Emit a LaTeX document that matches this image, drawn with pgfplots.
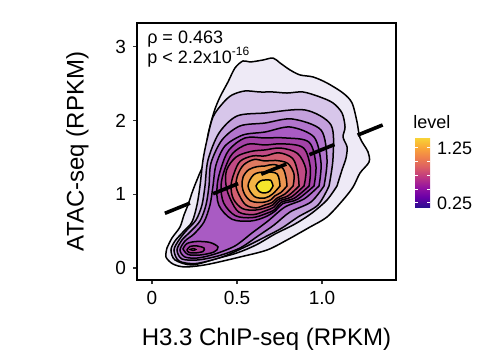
\documentclass[border=0pt]{standalone}
\usepackage{fontspec}
\setmainfont{Liberation Sans}
\usepackage{pgfplots}
\pgfplotsset{compat=1.18}
\definecolor{cA}{HTML}{EEEAF6}
\definecolor{cB}{HTML}{D7C6EA}
\definecolor{cC}{HTML}{C3A0DC}
\definecolor{cD}{HTML}{B275CD}
\definecolor{cE}{HTML}{A95BC3}
\definecolor{cF}{HTML}{A443A8}
\definecolor{cG}{HTML}{AD3F97}
\definecolor{cH}{HTML}{C04A84}
\definecolor{cI}{HTML}{D25E70}
\definecolor{cJ}{HTML}{E07A60}
\definecolor{cK}{HTML}{EC9550}
\definecolor{cL}{HTML}{F4B545}
\definecolor{cM}{HTML}{F5E62B}
\pgfplotsset{/pgf/number format/assume math mode=true}
\begin{document}
\begin{tikzpicture}
\useasboundingbox (0,0) rectangle (246pt,180pt);
\begin{axis}[
  at={(68.5pt,40pt)}, anchor=south west,
  width=129.5pt, height=128.5pt, scale only axis,
  xmin=-0.088, xmax=1.435, ymin=-0.163, ymax=3.324,
  xtick={0,0.5,1}, xticklabels={0,0.5,1.0},
  ytick={0,1,2,3}, yticklabels={0,1,2,3},
  tick align=outside, tick pos=left, major tick length=2pt,
  tick style={black!80, line width=0.6pt},
  axis line style={black, line width=0.7pt},
  xlabel={H3.3 ChIP-seq (RPKM)}, ylabel={ATAC-seq (RPKM)},
  label style={font=\fontsize{12}{14}\selectfont},
  xlabel style={at={(axis description cs:0.5,-0.253)}, anchor=base},
  ylabel style={at={(axis description cs:-0.185,0.5)}, anchor=south, inner sep=0pt},
  ticklabel style={font=\fontsize{9.5}{11}\selectfont},
  colorbar,
  colormap={cbar}{rgb255=(43,13,145) rgb255=(106,0,168) rgb255=(150,20,160) rgb255=(190,55,130) rgb255=(220,95,100) rgb255=(240,130,75) rgb255=(250,170,55) rgb255=(248,215,55)},
  point meta min=0.177, point meta max=1.45,
  colorbar style={
    at={(parent axis.east)}, anchor=west, xshift=1pt, yshift=-10.25pt,
    width=7.5pt, height=35pt, scale only axis,
    ytick={0.25,0.5,0.75,1,1.25},
    yticklabels={0.25,,,,1.25},
    ytick style={white, line width=0.5pt},
    major tick length=1.5pt,
    tick align=inside, ytick pos=both, yticklabel pos=right,
    axis line style={draw=none},
    yticklabel style={font=\fontsize{9}{10}\selectfont},
    title={level},
    title style={at={(0,1)}, anchor=base west, inner sep=0pt, xshift=-1pt, yshift=-1.5pt, font=\fontsize{9}{10}\selectfont},
  },
]
% L1
\addplot[fill=cA, draw=black, line width=0.75pt, smooth, tension=0.5] coordinates {
(0.0882,0.271) (0.1176,0.407) (0.1647,0.556) (0.1882,0.719) (0.2118,0.855) (0.2412,1.058) (0.2765,1.262) (0.3118,1.465) (0.3294,1.805) (0.3647,2.117) (0.4,2.320) (0.4471,2.524) (0.4882,2.714) (0.5353,2.809) (0.5765,2.795) (0.6529,2.822) (0.7118,2.849) (0.7529,2.782) (0.8118,2.687) (0.8706,2.619) (0.9471,2.592) (1.0294,2.510) (1.1235,2.374) (1.1765,2.239) (1.2059,1.981) (1.2235,1.764) (1.2706,1.574) (1.2765,1.438) (1.2235,1.289) (1.1824,1.099) (1.1235,0.923) (1.0294,0.692) (0.9294,0.556) (0.7941,0.380) (0.6765,0.244) (0.5176,0.149) (0.3235,0.047) (0.1941,0.014) (0.1235,0.054) (0.0824,0.149) (0.0882,0.271)} -- cycle;
% L2
\addplot[fill=cB, draw=black, line width=0.75pt, smooth, tension=0.5] coordinates {
(1.0882,1.113) (1.1176,1.330) (1.1412,1.493) (1.1471,1.642) (1.1235,1.777) (1.1353,1.913) (1.1176,2.103) (1.0647,2.239) (0.9882,2.320) (0.8882,2.388) (0.7941,2.374) (0.7118,2.388) (0.6353,2.388) (0.5471,2.402) (0.4706,2.347) (0.4176,2.239) (0.3588,2.049) (0.3235,1.737) (0.3,1.465) (0.2824,1.113) (0.2647,0.855) (0.2353,0.624) (0.1824,0.488) (0.1353,0.366) (0.1118,0.244) (0.1353,0.109) (0.2353,0.041) (0.3706,0.122) (0.5,0.204) (0.6118,0.312) (0.7235,0.461) (0.8412,0.597) (0.9412,0.746) (1.0294,0.923) (1.0882,1.113)} -- cycle;
% L3
\addplot[fill=cC, draw=black, line width=0.75pt, smooth, tension=0.5] coordinates {
(1.0412,1.113) (1.0647,1.493) (1.0529,1.940) (0.9,2.144) (0.6647,2.103) (0.5,2.062) (0.3941,1.831) (0.3294,1.465) (0.3118,1.113) (0.2941,0.855) (0.2588,0.651) (0.2,0.502) (0.1588,0.380) (0.1294,0.244) (0.1588,0.095) (0.2588,0.061) (0.4118,0.149) (0.5471,0.285) (0.6647,0.421) (0.7647,0.543) (0.8588,0.692) (0.9765,0.855) (1.0412,1.113)} -- cycle;
% L4
\addplot[fill=cD, draw=black, line width=0.75pt, smooth, tension=0.5] coordinates {
(1.0118,1.113) (1.0294,1.465) (0.9941,1.872) (0.8235,2.022) (0.6647,1.967) (0.5176,1.927) (0.4118,1.737) (0.3471,1.425) (0.3353,1.113) (0.3176,0.855) (0.2824,0.638) (0.2235,0.488) (0.1765,0.380) (0.1471,0.244) (0.1765,0.122) (0.2706,0.109) (0.3882,0.163) (0.5176,0.271) (0.6235,0.434) (0.7176,0.583) (0.8118,0.760) (0.9353,0.896) (1.0118,1.113)} -- cycle;
% L5
\addplot[fill=cE, draw=black, line width=0.75pt, smooth, tension=0.5] coordinates {
(0.9824,1.113) (0.9941,1.425) (0.9529,1.777) (0.8118,1.913) (0.6647,1.845) (0.5353,1.805) (0.4294,1.655) (0.3765,1.398) (0.3588,1.113) (0.3412,0.855) (0.3059,0.624) (0.2471,0.461) (0.1941,0.366) (0.1647,0.244) (0.1941,0.149) (0.2706,0.136) (0.3706,0.190) (0.4882,0.299) (0.5882,0.475) (0.6824,0.638) (0.7824,0.828) (0.8941,0.936) (0.9824,1.113)} -- cycle;
% lobe L6, L7, L8
\addplot[fill=cF, draw=black, line width=0.75pt, smooth, tension=0.55] coordinates {
(0.1824,0.258) (0.2059,0.332) (0.2647,0.360) (0.3412,0.346) (0.3882,0.285) (0.3647,0.217) (0.2824,0.176) (0.2118,0.183) (0.1824,0.258)} -- cycle;
\addplot[fill=cG, draw=black, line width=0.75pt, smooth, tension=0.55] coordinates {
(0.2059,0.244) (0.2235,0.292) (0.2647,0.299) (0.3059,0.271) (0.3,0.224) (0.2529,0.204) (0.2176,0.210) (0.2059,0.244)} -- cycle;
\addplot[fill=cH, draw=black, line width=0.6pt, smooth, tension=0.55] coordinates {
(0.2235,0.251) (0.2412,0.265) (0.2588,0.251) (0.2412,0.237) (0.2235,0.251)} -- cycle;
% main L6..L13
\addplot[fill=cF, draw=black, line width=0.75pt, smooth, tension=0.55] coordinates {
(0.953,1.113) (0.964,1.399) (0.923,1.708) (0.782,1.765) (0.665,1.764) (0.548,1.765) (0.453,1.602) (0.407,1.360) (0.383,1.113) (0.393,0.853) (0.470,0.662) (0.580,0.637) (0.665,0.692) (0.726,0.775) (0.769,0.873) (0.855,0.931) (0.953,1.113)} -- cycle;
\addplot[fill=cG, draw=black, line width=0.75pt, smooth, tension=0.55] coordinates {
(0.924,1.113) (0.931,1.368) (0.890,1.631) (0.768,1.685) (0.665,1.669) (0.563,1.680) (0.474,1.554) (0.428,1.340) (0.406,1.113) (0.422,0.881) (0.490,0.710) (0.588,0.683) (0.665,0.733) (0.722,0.793) (0.761,0.892) (0.838,0.948) (0.924,1.113)} -- cycle;
\addplot[fill=cH, draw=black, line width=0.75pt, smooth, tension=0.55] coordinates {
(0.894,1.113) (0.905,1.343) (0.856,1.554) (0.757,1.627) (0.665,1.602) (0.581,1.581) (0.495,1.506) (0.439,1.329) (0.436,1.113) (0.464,0.921) (0.511,0.758) (0.595,0.724) (0.665,0.774) (0.717,0.825) (0.752,0.912) (0.820,0.965) (0.894,1.113)} -- cycle;
\addplot[fill=cI, draw=black, line width=0.75pt, smooth, tension=0.55] coordinates {
(0.865,1.113) (0.857,1.297) (0.827,1.487) (0.746,1.563) (0.665,1.520) (0.592,1.520) (0.519,1.449) (0.483,1.287) (0.465,1.113) (0.479,0.935) (0.532,0.806) (0.606,0.785) (0.665,0.815) (0.711,0.856) (0.744,0.931) (0.802,0.982) (0.865,1.113)} -- cycle;
\addplot[fill=cJ, draw=black, line width=0.75pt, smooth, tension=0.55] coordinates {
(0.830,1.113) (0.835,1.275) (0.798,1.420) (0.727,1.459) (0.665,1.452) (0.601,1.472) (0.540,1.401) (0.505,1.266) (0.494,1.113) (0.517,0.972) (0.553,0.854) (0.612,0.816) (0.665,0.855) (0.706,0.887) (0.736,0.950) (0.781,1.002) (0.830,1.113)} -- cycle;
\addplot[fill=cK, draw=black, line width=0.75pt, smooth, tension=0.55] coordinates {
(0.794,1.113) (0.788,1.230) (0.769,1.353) (0.717,1.404) (0.665,1.384) (0.618,1.375) (0.569,1.334) (0.536,1.236) (0.530,1.113) (0.545,0.999) (0.578,0.912) (0.625,0.889) (0.665,0.896) (0.699,0.925) (0.723,0.979) (0.758,1.024) (0.794,1.113)} -- cycle;
\addplot[fill=cL, draw=black, line width=0.75pt, smooth, tension=0.55] coordinates {
(0.753,1.113) (0.736,1.276) (0.665,1.303) (0.599,1.267) (0.565,1.113) (0.603,0.969) (0.665,0.950) (0.711,1.007) (0.753,1.113)} -- cycle;
\addplot[fill=cM, draw=black, line width=0.75pt, smooth, tension=0.55] coordinates {
(0.712,1.113) (0.698,1.190) (0.665,1.194) (0.636,1.180) (0.612,1.113) (0.632,1.036) (0.665,1.018) (0.694,1.046) (0.712,1.113)} -- cycle;
% regression line
\addplot[black, line width=1.8pt, dash pattern=on 13.5pt off 12.5pt] coordinates {(0.076,0.742) (1.371,1.954)};
\node[anchor=base west, inner sep=0pt, font=\fontsize{9}{10}\selectfont] at (axis cs:-0.03,3.04) {ρ = 0.463};
\node[anchor=base west, inner sep=0pt, font=\fontsize{9}{10}\selectfont] at (axis cs:-0.03,2.78) {p < 2.2x10\raisebox{0.85ex}{\fontsize{6}{6}\selectfont -16}};
\end{axis}
\end{tikzpicture}
\end{document}
